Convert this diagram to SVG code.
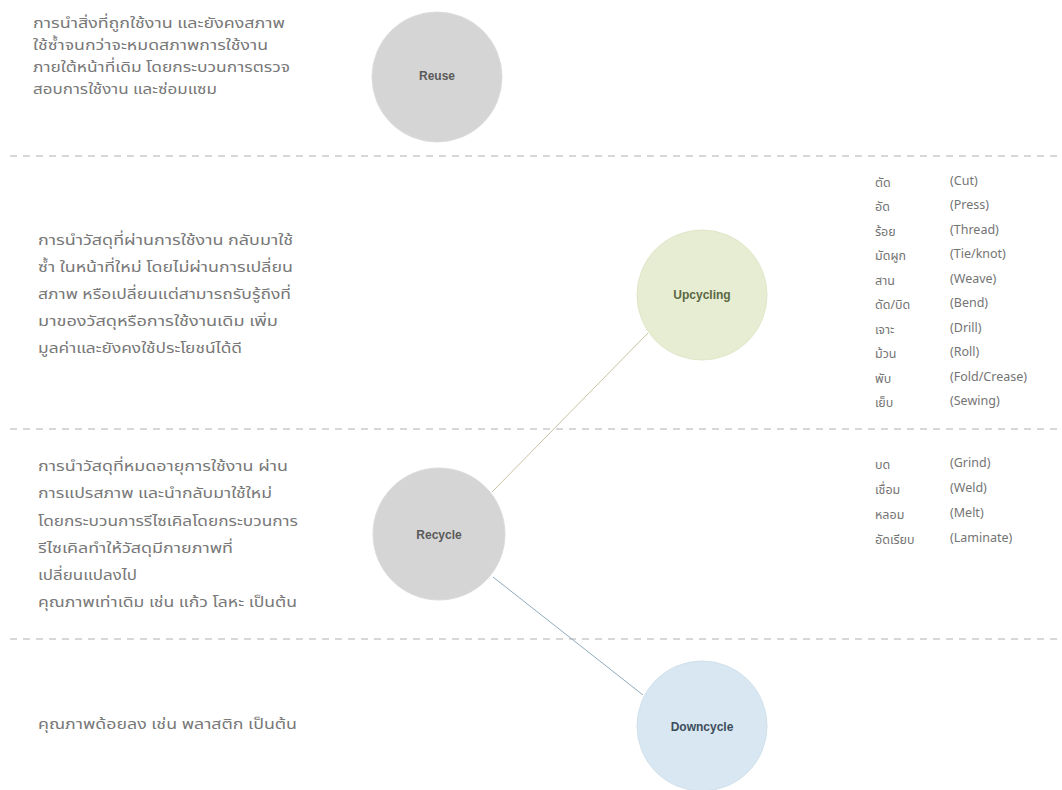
<svg xmlns="http://www.w3.org/2000/svg" width="1062" height="790" viewBox="0 0 1062 790">
<style>
.desc{font-family:"Noto Sans Thai","Noto Sans","DejaVu Sans",sans-serif;font-size:14.5px;fill:#787878}
.lst{font-family:"Noto Sans Thai","Noto Sans","DejaVu Sans",sans-serif;font-size:12.5px;fill:#747474}
.lbl{font-family:"Liberation Sans",Arial,sans-serif;font-size:12px;font-weight:bold;text-anchor:middle;dominant-baseline:central}
.sep{stroke:#b0b0b0;stroke-width:1;stroke-dasharray:7 6;fill:none}
</style>
<rect width="1062" height="790" fill="#ffffff"/>
<g id="separators">
<line class="sep" x1="10" y1="156" x2="1062" y2="156"/>
<line class="sep" x1="10" y1="429" x2="1062" y2="429"/>
<line class="sep" x1="10" y1="639" x2="1062" y2="639"/>
</g>
<g id="connectors">
<line x1="492" y1="492" x2="648" y2="333" stroke="#c9c2a2" stroke-width="1"/>
<line x1="493" y1="577" x2="643" y2="695" stroke="#8faabb" stroke-width="1"/>
</g>
<g id="reuse">
<circle cx="437" cy="77" r="65" fill="#d5d5d5" stroke="#dcdcdc"/>
<text class="lbl" x="437" y="76" fill="#5a5a5a">Reuse</text>
</g>
<g id="upcycling">
<circle cx="702" cy="295" r="65" fill="#e7edd2" stroke="#e0e6c8"/>
<text class="lbl" x="702" y="295" fill="#5b6844">Upcycling</text>
</g>
<g id="recycle">
<circle cx="439" cy="534" r="66" fill="#d5d5d5" stroke="#dcdcdc"/>
<text class="lbl" x="439" y="535" fill="#5a5a5a">Recycle</text>
</g>
<g id="downcycle">
<circle cx="702" cy="726" r="65" fill="#d8e7f1" stroke="#d0e0ea"/>
<text class="lbl" x="702" y="727" fill="#3e4d5c">Downcycle</text>
</g>
<g id="reuse-desc">
<text class="desc" x="33" y="28" textLength="252" lengthAdjust="spacingAndGlyphs">การนำสิ่งที่ถูกใช้งาน และยังคงสภาพ</text>
<text class="desc" x="33" y="50" textLength="235" lengthAdjust="spacingAndGlyphs">ใช้ซ้ำจนกว่าจะหมดสภาพการใช้งาน</text>
<text class="desc" x="33" y="72" textLength="257" lengthAdjust="spacingAndGlyphs">ภายใต้หน้าที่เดิม โดยกระบวนการตรวจ</text>
<text class="desc" x="33" y="94" textLength="184" lengthAdjust="spacingAndGlyphs">สอบการใช้งาน และซ่อมแซม</text>
</g>
<g id="upcycling-desc">
<text class="desc" x="38" y="245" textLength="255" lengthAdjust="spacingAndGlyphs">การนำวัสดุที่ผ่านการใช้งาน กลับมาใช้</text>
<text class="desc" x="38" y="272" textLength="255" lengthAdjust="spacingAndGlyphs">ซ้ำ ในหน้าที่ใหม่ โดยไม่ผ่านการเปลี่ยน</text>
<text class="desc" x="38" y="299" textLength="253" lengthAdjust="spacingAndGlyphs">สภาพ หรือเปลี่ยนแต่สามารถรับรู้ถึงที่</text>
<text class="desc" x="38" y="326" textLength="240" lengthAdjust="spacingAndGlyphs">มาของวัสดุหรือการใช้งานเดิม เพิ่ม</text>
<text class="desc" x="38" y="353" textLength="204" lengthAdjust="spacingAndGlyphs">มูลค่าและยังคงใช้ประโยชน์ได้ดี</text>
</g>
<g id="recycle-desc">
<text class="desc" x="38" y="471" textLength="250" lengthAdjust="spacingAndGlyphs">การนำวัสดุที่หมดอายุการใช้งาน ผ่าน</text>
<text class="desc" x="38" y="498" textLength="234" lengthAdjust="spacingAndGlyphs">การแปรสภาพ และนำกลับมาใช้ใหม่</text>
<text class="desc" x="38" y="526" textLength="260" lengthAdjust="spacingAndGlyphs">โดยกระบวนการรีไซเคิลโดยกระบวนการ</text>
<text class="desc" x="38" y="553" textLength="195" lengthAdjust="spacingAndGlyphs">รีไซเคิลทำให้วัสดุมีกายภาพที่</text>
<text class="desc" x="38" y="580" textLength="99" lengthAdjust="spacingAndGlyphs">เปลี่ยนแปลงไป</text>
<text class="desc" x="38" y="607" textLength="259" lengthAdjust="spacingAndGlyphs">คุณภาพเท่าเดิม เช่น แก้ว โลหะ เป็นต้น</text>
</g>
<g id="downcycle-desc">
<text class="desc" x="38" y="729" textLength="259" lengthAdjust="spacingAndGlyphs">คุณภาพด้อยลง เช่น พลาสติก เป็นต้น</text>
</g>
<g id="upcycling-list">
<text class="lst" x="875" y="187">ตัด</text><text class="lst" x="950" y="185">(Cut)</text>
<text class="lst" x="875" y="211">อัด</text><text class="lst" x="950" y="209">(Press)</text>
<text class="lst" x="875" y="236">ร้อย</text><text class="lst" x="950" y="234">(Thread)</text>
<text class="lst" x="875" y="260">มัดผูก</text><text class="lst" x="950" y="258">(Tie/knot)</text>
<text class="lst" x="875" y="285">สาน</text><text class="lst" x="950" y="283">(Weave)</text>
<text class="lst" x="875" y="309">ดัด/บิด</text><text class="lst" x="950" y="307">(Bend)</text>
<text class="lst" x="875" y="334">เจาะ</text><text class="lst" x="950" y="332">(Drill)</text>
<text class="lst" x="875" y="358">ม้วน</text><text class="lst" x="950" y="356">(Roll)</text>
<text class="lst" x="875" y="383">พับ</text><text class="lst" x="950" y="381">(Fold/Crease)</text>
<text class="lst" x="875" y="407">เย็บ</text><text class="lst" x="950" y="405">(Sewing)</text>
</g>
<g id="recycle-list">
<text class="lst" x="875" y="469">บด</text><text class="lst" x="950" y="467">(Grind)</text>
<text class="lst" x="875" y="494">เชื่อม</text><text class="lst" x="950" y="492">(Weld)</text>
<text class="lst" x="875" y="519">หลอม</text><text class="lst" x="950" y="517">(Melt)</text>
<text class="lst" x="875" y="544">อัดเรียบ</text><text class="lst" x="950" y="542">(Laminate)</text>
</g>
</svg>
